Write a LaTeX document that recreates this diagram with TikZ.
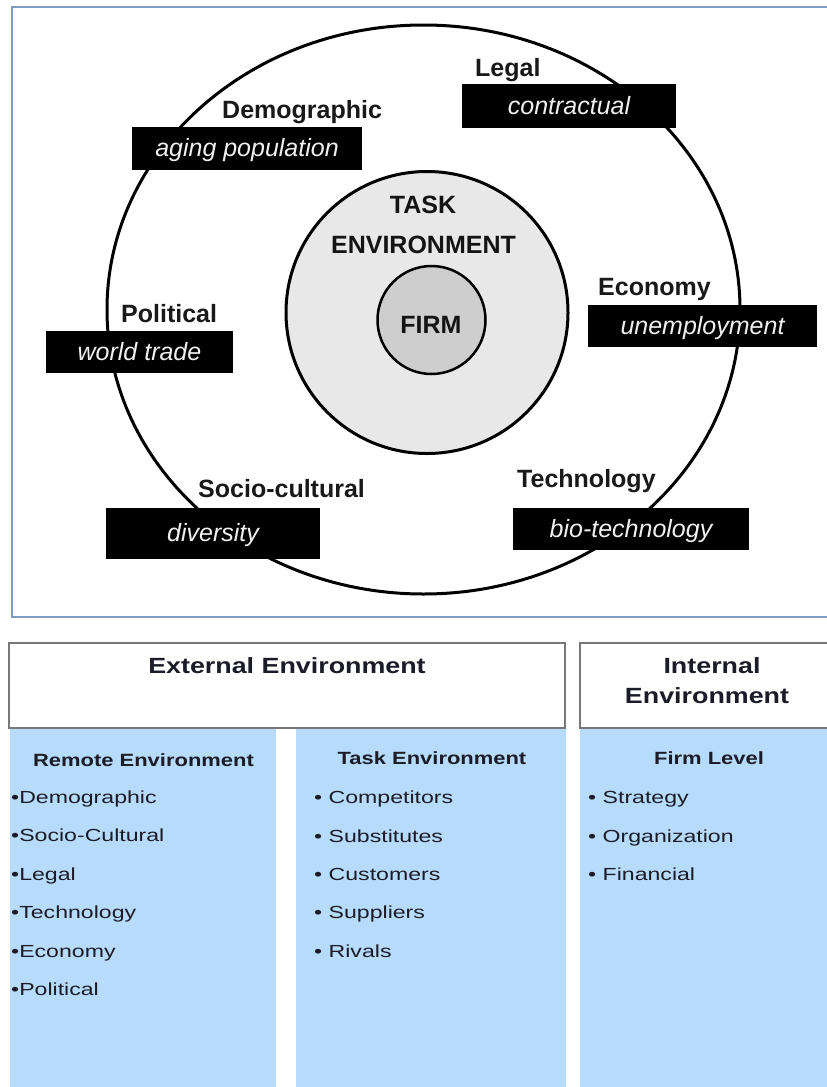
\documentclass[tikz,border=0pt]{standalone}
\usepackage{fontspec}
\setmainfont{Liberation Sans}
% slightly widened faces for the table part
\newfontfamily\tabreg[FakeStretch=1.32]{Liberation Sans}
\newfontfamily\tabbold[FakeStretch=1.24]{Liberation Sans}
\newfontfamily\headbold[FakeStretch=1.22]{Liberation Sans}

\definecolor{framecol}{RGB}{127,156,192}
\definecolor{colblue}{RGB}{183,219,250}
\definecolor{hdrline}{RGB}{120,120,120}
\definecolor{taskgray}{RGB}{232,232,232}
\definecolor{firmgray}{RGB}{206,206,206}
\definecolor{tabtext}{RGB}{28,28,40}

\begin{document}
\begin{tikzpicture}[x=1pt,y=-1pt,
  lbl/.style={anchor=base west, inner sep=0pt, text=black!90,
              font=\fontsize{25}{30}\selectfont\bfseries},
  tag/.style={fill=black, text=white!94!black, inner sep=0pt,
              text height=19pt, text depth=3pt,
              font=\fontsize{25}{30}\selectfont\itshape},
  ctr/.style={anchor=base, inner sep=0pt, text=black!92,
              font=\fontsize{25}{30}\selectfont\bfseries},
  hdrbox/.style={draw=hdrline, line width=2pt, fill=white, inner sep=0pt},
  colbox/.style={fill=colblue, inner sep=0pt},
  hdrtxt/.style={anchor=base, inner sep=0pt, text=tabtext,
                 font=\headbold\fontsize{22}{26}\selectfont\bfseries},
  coltitle/.style={anchor=base, inner sep=0pt, text=tabtext,
                   font=\tabbold\fontsize{17.7}{21}\selectfont\bfseries},
  item/.style={anchor=base west, inner sep=0pt, text=tabtext,
               font=\tabreg\fontsize{17.5}{21}\selectfont}]

\useasboundingbox (0,0) rectangle (827,1087);
\clip (0,0) rectangle (827,1087);
\fill[white] (0,0) rectangle (827,1087);

% ---------- upper panel: environment circles ----------
\draw[framecol, line width=2pt] (840,7) -- (11.5,7) -- (11.5,617) -- (840,617);

\draw[line width=3pt] (423.5,309.5) ellipse [x radius=316.5pt, y radius=284.5pt];

\node[draw, line width=3pt, fill=taskgray, circle, minimum size=282pt, inner sep=0pt]
  (taskc) at (427,312.5) {};
\node[draw, line width=2.5pt, fill=firmgray, circle, minimum size=108pt, inner sep=0pt]
  (firmc) at (431.5,320) {};

\node[ctr] (task1) at (423,213) {TASK};
\node[ctr] (task2) at (423.5,253) {ENVIRONMENT};
\node[ctr] (firm) at (431,333) {FIRM};

% factor labels and their example tags
\node[lbl] (demo) at (222,118) {Demographic};
\node[tag, minimum width=230pt, minimum height=43pt] (demotag) at (247,148.5) {aging population};

\node[lbl] (legal) at (475,76) {Legal};
\node[tag, minimum width=214pt, minimum height=44pt] (legaltag) at (569,106) {contractual};

\node[lbl] (pol) at (121,322) {Political};
\node[tag, minimum width=187pt, minimum height=42pt] (poltag) at (139.5,352) {world trade};

\node[lbl] (eco) at (598,295) {Economy};
\node[tag, minimum width=229pt, minimum height=42pt] (ecotag) at (702.5,326) {unemployment};

\node[lbl] (soc) at (198,497) {Socio-cultural};
\node[tag, minimum width=214pt, minimum height=51pt] (soctag) at (213,533.5) {diversity};

\node[lbl] (tech) at (517,487) {Technology};
\node[tag, minimum width=236pt, minimum height=42pt] (techtag) at (631,529) {bio-technology};

% ---------- lower panel: environment table ----------
\node[hdrbox, minimum width=556pt, minimum height=85pt] (exthdr) at (287,685.5) {};
\node[hdrtxt] (exttxt) at (287,673) {External Environment};

\node[hdrbox, minimum width=270pt, minimum height=85pt] (inthdr) at (715,685.5) {};
\node[hdrtxt] (inttxt1) at (712,673) {Internal};
\node[hdrtxt] (inttxt2) at (707,703) {Environment};

\node[colbox, minimum width=266pt, minimum height=367pt, anchor=north west] (remcol) at (10,729) {};
\node[colbox, minimum width=270pt, minimum height=367pt, anchor=north west] (taskcol) at (296,729) {};
\node[colbox, minimum width=270pt, minimum height=367pt, anchor=north west] (firmcol) at (580,729) {};

\node[coltitle] (remtitle) at (143.5,766) {Remote Environment};
\node[item] (r1) at (11,803) {•Demographic};
\node[item] (r2) at (11,841.5) {•Socio-Cultural};
\node[item] (r3) at (11,880) {•Legal};
\node[item] (r4) at (11,918.5) {•Technology};
\node[item] (r5) at (11,957) {•Economy};
\node[item] (r6) at (11,995.5) {•Political};

\node[coltitle] (tasktitle) at (432,764) {Task Environment};
\node[item] (t1) at (314,803) {• Competitors};
\node[item] (t2) at (314,842) {• Substitutes};
\node[item] (t3) at (314,880) {• Customers};
\node[item] (t4) at (314,918.5) {• Suppliers};
\node[item] (t5) at (314,957) {• Rivals};

\node[coltitle] (firmtitle) at (709,764) {Firm Level};
\node[item] (f1) at (588,803) {• Strategy};
\node[item] (f2) at (588,842) {• Organization};
\node[item] (f3) at (588,880) {• Financial};

\end{tikzpicture}
\end{document}
